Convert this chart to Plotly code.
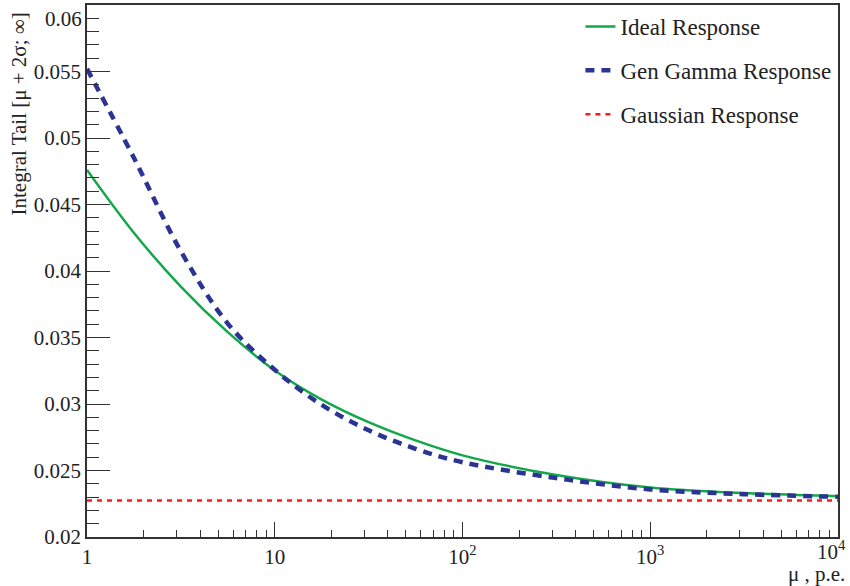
import plotly.graph_objects as go

# ---- data ----
ideal_mu = [1, 1.78, 3.16, 5.62, 10, 17.8, 31.6, 56.2, 100, 316, 1000, 3162, 10000]
ideal_tail = [0.0476, 0.04286, 0.03883, 0.0354, 0.03252, 0.03033, 0.02863, 0.02726, 0.02614,
              0.02466, 0.02372, 0.0233, 0.02307]

gamma_mu = [1, 1.78, 3.16, 5.62, 10, 17.8, 31.6, 56.2, 100, 316, 1000, 3162, 10000]
gamma_tail = [0.0552, 0.04849, 0.04149, 0.03605, 0.03257, 0.02993, 0.02803, 0.02663, 0.02562,
              0.02443, 0.02358, 0.02322, 0.02302]

gauss_mu = [1, 10000]
gauss_tail = [0.02275, 0.02275]

x_tickvals = [1, 10, 100, 1000, 10000]
x_ticktext = ["1", "10", "10<sup>2</sup>", "10<sup>3</sup>", "10<sup>4</sup>"]
x_minor = [k * 10 ** d for d in range(4) for k in range(2, 10)]

y_tickvals = [0.02, 0.025, 0.03, 0.035, 0.04, 0.045, 0.05, 0.055, 0.06]
y_ticktext = ["0.02", "0.025", "0.03", "0.035", "0.04", "0.045", "0.05", "0.055", "0.06"]
y_minor = [round(0.02 + 0.001 * i, 3) for i in range(41)]

FONT = "'Liberation Serif', 'DejaVu Serif', serif"
AX = "#333333"
TXT = "#222222"

fig = go.Figure()
fig.add_trace(go.Scatter(x=ideal_mu, y=ideal_tail, mode="lines", name="Ideal Response",
                         legendgroup="a",
                         line=dict(color="#12a84a", width=2.5, shape="spline", smoothing=1.0)))
fig.add_trace(go.Scatter(x=gamma_mu, y=gamma_tail, mode="lines", name="Gen Gamma Response",
                         legendgroup="b",
                         line=dict(color="#2b3493", width=4.5, dash="9px,7px", shape="spline",
                                   smoothing=1.0)))
fig.add_trace(go.Scatter(x=gauss_mu, y=gauss_tail, mode="lines", name="Gaussian Response",
                         legendgroup="c", line=dict(color="#ff1a1a", width=2.5, dash="5px,5px")))

# x tick labels: all but the last via the axis; the last one right-aligned at the edge
x_axis_text = x_ticktext[:-1] + [""]

fig.update_layout(
    width=850, height=586,
    margin=dict(l=87, r=12, t=3, b=49),
    paper_bgcolor="white", plot_bgcolor="white",
    font=dict(family=FONT, size=21, color=TXT),
    showlegend=True,
    legend=dict(x=0.657, xanchor="left", y=1.0, yanchor="top",
                bgcolor="rgba(255,255,255,0)", borderwidth=0,
                font=dict(family=FONT, size=23, color=TXT),
                tracegroupgap=11, itemwidth=30),
    xaxis=dict(type="log", range=[0, 4], showgrid=False, zeroline=False,
               showline=True, linecolor=AX, linewidth=1.5, mirror=True,
               tickmode="array", tickvals=x_tickvals, ticktext=x_axis_text,
               ticks="inside", ticklen=15, tickcolor=AX, tickwidth=1.2,
               tickfont=dict(family=FONT, size=21, color=TXT),
               minor=dict(tickmode="array", tickvals=x_minor, ticks="inside", ticklen=7,
                          tickcolor=AX, tickwidth=1.2, showgrid=False)),
    yaxis=dict(range=[0.02, 0.06], showgrid=False, zeroline=False,
               showline=True, linecolor=AX, linewidth=1.5, mirror=True,
               tickmode="array", tickvals=y_tickvals, ticktext=y_ticktext[:-1] + [""],
               ticks="inside", ticklen=23, tickcolor=AX, tickwidth=1.2,
               tickfont=dict(family=FONT, size=21, color=TXT),
               minor=dict(tickmode="array", tickvals=y_minor, ticks="inside", ticklen=12,
                          tickcolor=AX, tickwidth=1.2, showgrid=False)),
)

fig.add_annotation(text=y_ticktext[-1], xref="paper", yref="y", x=0, y=y_tickvals[-1],
                   xanchor="right", yanchor="top", xshift=-3, showarrow=False,
                   font=dict(family=FONT, size=21, color=TXT))
fig.add_annotation(text=x_ticktext[-1], xref="x", yref="paper", x=4, y=0,
                   xanchor="right", yanchor="top", xshift=10, yshift=2, showarrow=False,
                   font=dict(family=FONT, size=21, color=TXT))
fig.add_annotation(text="Integral Tail [μ + 2σ; ∞]", xref="paper", yref="paper", x=0, y=1,
                   xanchor="center", yanchor="top", xshift=-69, yshift=-6, textangle=-90,
                   showarrow=False, font=dict(family=FONT, size=21, color=TXT))
fig.add_annotation(text="μ , p.e.", xref="paper", yref="paper", x=1, y=0,
                   xanchor="right", yanchor="middle", xshift=9, yshift=-37,
                   showarrow=False, font=dict(family=FONT, size=21, color=TXT))

fig.write_html("out.html")
